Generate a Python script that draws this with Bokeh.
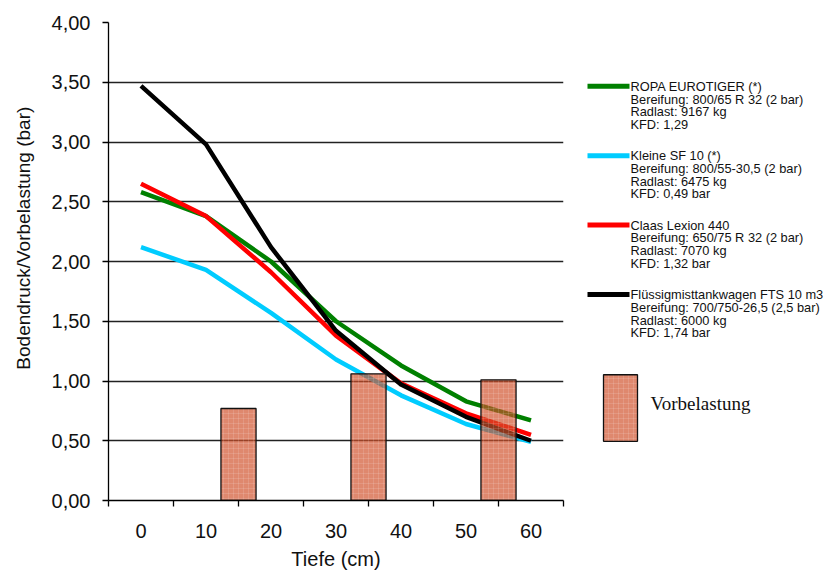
import numpy as np
from bokeh.plotting import figure
from bokeh.layouts import row
from bokeh.models import FixedTicker, CustomJSTickFormatter, Range1d
from bokeh.core.properties import value
from bokeh.embed import file_html
from bokeh.resources import INLINE

# ---------------- data ----------------
depth = [0, 10, 20, 30, 40, 50, 60]
ropa = [2.58, 2.38, 2.00, 1.50, 1.13, 0.83, 0.67]
kleine = [2.12, 1.93, 1.57, 1.18, 0.88, 0.64, 0.49]
claas = [2.65, 2.38, 1.91, 1.38, 0.98, 0.73, 0.55]
fts = [3.47, 2.98, 2.12, 1.42, 0.97, 0.70, 0.50]

vorbelastung_depth = [15, 35, 55]
vorbelastung = [0.77, 1.06, 1.01]

y_ticks = [0, 0.5, 1.0, 1.5, 2.0, 2.5, 3.0, 3.5, 4.0]
x_ticks = [0, 10, 20, 30, 40, 50, 60]
x_boundaries = [-5, 5, 15, 25, 35, 45, 55, 65]

y_title = "Bodendruck/Vorbelastung (bar)"
x_title = "Tiefe (cm)"
series_names = ["ROPA EUROTIGER (*)", "Kleine SF 10 (*)", "Claas Lexion 440",
                "Flüssigmisttankwagen FTS 10 m3"]
series_colors = ["#008000", "#00CCFF", "#FF0000", "#000000"]
tyres = ["Bereifung: 800/65 R 32 (2 bar)", "Bereifung: 800/55-30,5 (2 bar)",
         "Bereifung: 650/75 R 32 (2 bar)", "Bereifung: 700/750-26,5 (2,5 bar)"]
wheel_loads = ["Radlast: 9167 kg", "Radlast: 6475 kg", "Radlast: 7070 kg", "Radlast: 6000 kg"]
kfd = ["KFD: 1,29", "KFD: 0,49 bar", "KFD: 1,32 bar", "KFD: 1,74 bar"]
bar_label = "Vorbelastung"

SANS = value("Liberation Sans")
BAR_FILL = "#D0502A"
BAR_ALPHA = 0.68
TXT = "#111111"


def blank_panel(w):
    f = figure(width=w, height=574, x_range=Range1d(0, w), y_range=Range1d(574, 0),
               output_backend="svg", toolbar_location=None, x_axis_type=None, y_axis_type=None,
               min_border=0)
    f.outline_line_color = None
    f.xgrid.visible = False
    f.ygrid.visible = False
    f.background_fill_color = "white"
    f.border_fill_color = "white"
    return f


# ---------------- y title panel ----------------
LEFT_W = 45
yt = blank_panel(LEFT_W)
yt.text(x=[23], y=[259], text=[y_title], angle=np.pi / 2, text_font=SANS,
        text_font_size="19px", text_align="center", text_baseline="middle", text_color=TXT)

# ---------------- main chart ----------------
p = figure(width=565 - LEFT_W, height=574, x_range=Range1d(-5, 65), y_range=Range1d(0, 4),
           output_backend="svg", toolbar_location=None,
           min_border_left=108 - LEFT_W, min_border_right=2, min_border_top=22,
           min_border_bottom=74)
p.outline_line_color = None
p.background_fill_color = "white"
p.border_fill_color = "white"

# y axis
p.yaxis.ticker = FixedTicker(ticks=y_ticks)
p.yaxis.formatter = CustomJSTickFormatter(code="return tick.toFixed(2).replace('.', ',');")
p.yaxis.major_label_text_font = "Liberation Sans"
p.yaxis.major_label_text_font_size = "20px"
p.yaxis.major_label_text_color = TXT
p.yaxis.major_tick_out = 6
p.yaxis.major_tick_in = 0
p.yaxis.minor_tick_line_color = None
p.yaxis.major_label_standoff = 12
p.yaxis.axis_line_color = "black"
p.yaxis.axis_line_width = 1.3
p.yaxis.major_tick_line_width = 1.3

# x axis
p.xaxis.ticker = FixedTicker(ticks=x_ticks, minor_ticks=x_boundaries)
p.xaxis.major_tick_out = 0
p.xaxis.major_tick_in = 0
p.xaxis.minor_tick_out = 6
p.xaxis.minor_tick_in = 0
p.xaxis.minor_tick_line_color = "black"
p.xaxis.minor_tick_line_width = 1.3
p.xaxis.major_label_text_font = "Liberation Sans"
p.xaxis.major_label_text_font_size = "20px"
p.xaxis.major_label_text_color = TXT
p.xaxis.major_label_standoff = 17
p.xaxis.axis_line_color = "black"
p.xaxis.axis_line_width = 1.3
p.xaxis.axis_label = x_title
p.xaxis.axis_label_text_font = "Liberation Sans"
p.xaxis.axis_label_text_font_size = "20px"
p.xaxis.axis_label_text_font_style = "normal"
p.xaxis.axis_label_text_color = TXT
p.xaxis.axis_label_standoff = 7

# grid
p.xgrid.visible = False
p.ygrid.ticker = FixedTicker(ticks=y_ticks)
p.ygrid.grid_line_color = "#222222"
p.ygrid.grid_line_width = 1.4

# lines
for vals, col in zip([ropa, kleine, claas, fts], series_colors):
    p.line(depth, vals, line_color=col, line_width=4.5, line_join="round")

# Vorbelastung bars (translucent, on top)
p.vbar(x=vorbelastung_depth, top=vorbelastung, bottom=0, width=5.4,
       fill_color=BAR_FILL, fill_alpha=BAR_ALPHA, line_color="#111111", line_width=1.3,
       hatch_pattern="+", hatch_color="white", hatch_alpha=0.22, hatch_scale=5, hatch_weight=0.6)

# ---------------- legend panel ----------------
lg = blank_panel(265)

group_top = [76.7, 160.0, 243.3, 326.7]
line_step = 15.3
tx, ty, tt = [], [], []
for i in range(4):
    y0 = group_top[i]
    for j, t in enumerate([series_names[i], tyres[i], wheel_loads[i], kfd[i]]):
        tx.append(65)
        ty.append(y0 + j * line_step)
        tt.append(t)
lg.segment(x0=[22] * 4, y0=group_top, x1=[64] * 4, y1=group_top,
           line_color=series_colors, line_width=5)
lg.text(x=tx, y=ty, text=tt, text_font=SANS, text_font_size="12.8px",
        text_baseline="middle", text_align="left", text_color=TXT)

lg.quad(left=[38], right=[72], top=[423], bottom=[503],
        fill_color=BAR_FILL, fill_alpha=BAR_ALPHA, line_color="#111111", line_width=1.3,
        hatch_pattern="+", hatch_color="white", hatch_alpha=0.22, hatch_scale=5, hatch_weight=0.6)
lg.text(x=[85], y=[458], text=[bar_label], text_font=value("Liberation Serif"),
        text_font_size="19px", text_baseline="middle", text_align="left", text_color=TXT)

layout = row(yt, p, lg)
open("out.html", "w").write(file_html(layout, INLINE))
